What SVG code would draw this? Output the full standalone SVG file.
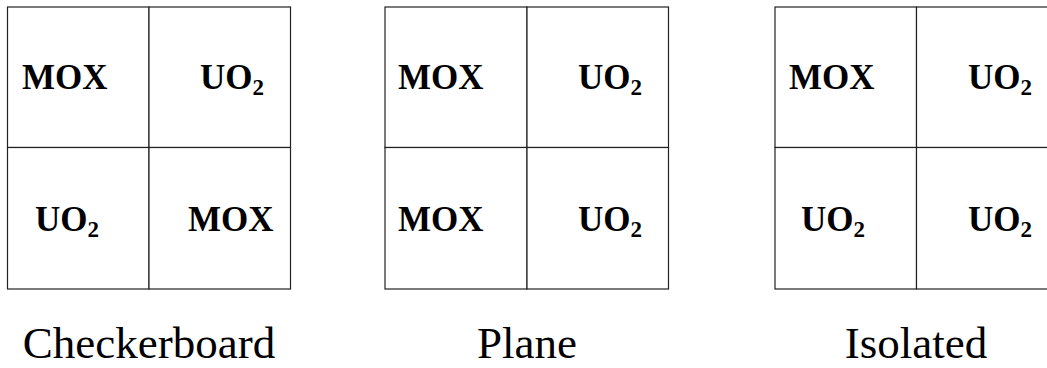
<svg xmlns="http://www.w3.org/2000/svg" width="1047" height="368" viewBox="0 0 1047 368">
<style>
.cell{fill:#fff;stroke:#222;stroke-width:1.2}
.lbl{font-family:"Liberation Serif","Times New Roman",serif;font-weight:bold;font-size:35px;fill:#000}
.sub{font-size:23px}
.cap{font-family:"Liberation Serif","Times New Roman",serif;font-size:45px;fill:#000;text-anchor:middle}
</style>
<rect width="1047" height="368" fill="#fff"/>
<g id="checkerboard">
<rect class="cell" x="7.5" y="7" width="141.5" height="140.5"/>
<rect class="cell" x="149" y="7" width="141.5" height="140.5"/>
<rect class="cell" x="7.5" y="147.5" width="141.5" height="141.5"/>
<rect class="cell" x="149" y="147.5" width="141.5" height="141.5"/>
<text class="lbl" x="22" y="89">MOX</text>
<text class="lbl" x="200" y="89">UO<tspan class="sub" dy="6">2</tspan></text>
<text class="lbl" x="35" y="231">UO<tspan class="sub" dy="6">2</tspan></text>
<text class="lbl" x="188" y="231">MOX</text>
<text class="cap" x="149" y="358">Checkerboard</text>
</g>
<g id="plane">
<rect class="cell" x="385" y="7" width="142" height="140.5"/>
<rect class="cell" x="527" y="7" width="141.5" height="140.5"/>
<rect class="cell" x="385" y="147.5" width="142" height="141.5"/>
<rect class="cell" x="527" y="147.5" width="141.5" height="141.5"/>
<text class="lbl" x="398" y="89">MOX</text>
<text class="lbl" x="578" y="89">UO<tspan class="sub" dy="6">2</tspan></text>
<text class="lbl" x="398" y="231">MOX</text>
<text class="lbl" x="578" y="231">UO<tspan class="sub" dy="6">2</tspan></text>
<text class="cap" x="527" y="358">Plane</text>
</g>
<g id="isolated">
<rect class="cell" x="775" y="7" width="141.5" height="140.5"/>
<rect class="cell" x="916.5" y="7" width="141.5" height="140.5"/>
<rect class="cell" x="775" y="147.5" width="141.5" height="141.5"/>
<rect class="cell" x="916.5" y="147.5" width="141.5" height="141.5"/>
<text class="lbl" x="789" y="89">MOX</text>
<text class="lbl" x="968" y="89">UO<tspan class="sub" dy="6">2</tspan></text>
<text class="lbl" x="801" y="231">UO<tspan class="sub" dy="6">2</tspan></text>
<text class="lbl" x="968" y="231">UO<tspan class="sub" dy="6">2</tspan></text>
<text class="cap" x="916" y="358">Isolated</text>
</g>
<g id="connectors"></g>
</svg>
